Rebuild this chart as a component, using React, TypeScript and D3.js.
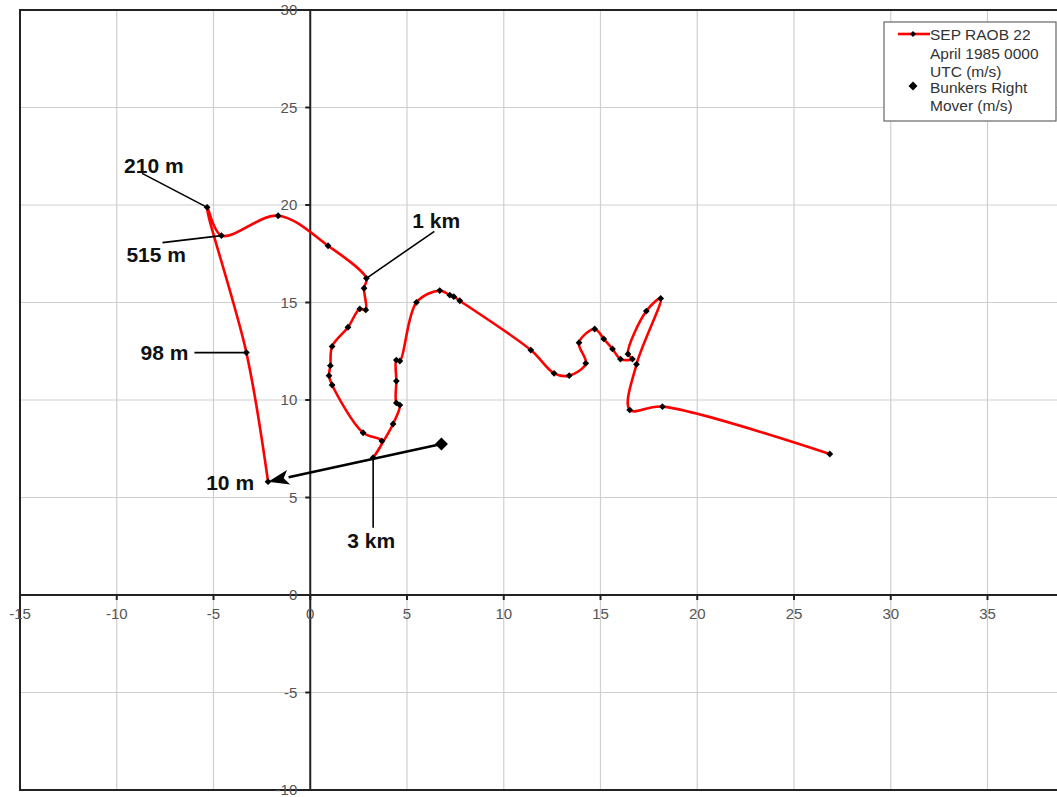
import React from "react";
import * as d3 from "d3";

// Hodograph: wind components (u, v) in m/s, ordered by height from 10 m upward
const uWind = [
  -2.18, -3.3, -5.33, -4.59, -1.66, 0.92, 2.9, 2.78, 2.87, 2.56, 1.95, 1.13, 1.04, 0.97, 1.13,
  2.73, 3.7, 3.25, 4.28, 4.63, 4.45, 4.45, 4.45, 4.63, 5.49, 6.69, 7.21, 7.42, 7.73, 11.4,
  12.6, 13.38, 14.24, 13.89, 14.7, 15.17, 15.62, 16.03, 16.65, 16.42, 17.37, 18.11, 16.86,
  16.51, 18.2, 26.85,
];
const vWind = [
  5.81, 12.43, 19.88, 18.43, 19.45, 17.91, 16.24, 15.73, 14.62, 14.67, 13.73, 12.75, 11.76,
  11.25, 10.77, 8.32, 7.9, 7.04, 8.77, 9.74, 9.85, 10.97, 12.05, 12.0, 15.01, 15.61, 15.38,
  15.3, 15.09, 12.56, 11.37, 11.25, 11.88, 12.94, 13.64, 13.13, 12.62, 12.1, 12.1, 12.36,
  14.56, 15.21, 11.83, 9.49, 9.66, 7.23,
];

// Bunkers right-mover storm motion (m/s)
const stormU = 6.78;
const stormV = 7.74;

// Height labels and the sounding level each one marks
const levelNames = ["10 m", "98 m", "210 m", "515 m", "1 km", "3 km"];
const levelIndex = [0, 1, 2, 3, 6, 17];

const xTicks = [-15, -10, -5, 0, 5, 10, 15, 20, 25, 30, 35];
const yTicks = [-10, -5, 0, 5, 10, 15, 20, 25, 30];

const legendLines = ["SEP RAOB 22", "April 1985 0000", "UTC (m/s)", "Bunkers Right", "Mover (m/s)"];

const W = 1057;
const H = 797;
const FONT = "'Liberation Sans', Arial, Helvetica, sans-serif";

// Label placement relative to the marked point (px): text anchor position and leader start
const labelLayout: Record<string, { tx: number; ty: number; anchor: string; lx?: number; ly?: number }> = {
  "10 m": { tx: -14, ty: 1, anchor: "end" },
  "98 m": { tx: -58, ty: 0, anchor: "end", lx: -52, ly: 0 },
  "210 m": { tx: -83, ty: -41, anchor: "start", lx: -65, ly: -34 },
  "515 m": { tx: -95, ty: 19, anchor: "start", lx: -59, ly: 7 },
  "1 km": { tx: 46, ty: -57, anchor: "start", lx: 68, ly: -47 },
  "3 km": { tx: -2, ty: 83, anchor: "middle", lx: 0, ly: 70 },
};

export default function App() {
  const x = d3.scaleLinear().domain([-15, 40]).range([20, 1084.25]);
  const y = d3.scaleLinear().domain([-10, 30]).range([790, 10]);

  const pts: [number, number][] = uWind.map((u, i) => [x(u), y(vWind[i])]);
  const line = d3
    .line<[number, number]>()
    .x((d) => d[0])
    .y((d) => d[1])
    .curve(d3.curveCatmullRom.alpha(0.5));

  const diamond = (cx: number, cy: number, r: number) =>
    `M${cx},${cy - r}L${cx + r},${cy}L${cx},${cy + r}L${cx - r},${cy}Z`;

  const sx = x(stormU);
  const sy = y(stormV);
  const [ex, ey] = pts[0];
  const ang = Math.atan2(ey - sy, ex - sx);
  const headLen = 21;
  const headW = 7.5;
  const bx = ex - headLen * Math.cos(ang);
  const by = ey - headLen * Math.sin(ang);
  const px = -Math.sin(ang);
  const py = Math.cos(ang);
  const head = `M${ex},${ey}L${bx + px * headW},${by + py * headW}L${bx + 5 * Math.cos(ang)},${by + 5 * Math.sin(ang)}L${bx - px * headW},${by - py * headW}Z`;

  const x0 = x(0);
  const y0 = y(0);

  return (
    <svg
      width={W}
      height={H}
      style={{ position: "absolute", left: 0, top: 0, background: "#fff" }}
      fontFamily={FONT}
    >
      <rect x={0} y={0} width={W} height={H} fill="#fff" />
      {/* gridlines */}
      {xTicks.map((t) => (
        <line key={"gx" + t} x1={x(t)} x2={x(t)} y1={y(30)} y2={y(-10)} stroke="#cfcfcf" strokeWidth={1.2} />
      ))}
      {yTicks.map((t) => (
        <line key={"gy" + t} x1={x(-15)} x2={x(40)} y1={y(t)} y2={y(t)} stroke="#cfcfcf" strokeWidth={1.2} />
      ))}
      {/* plot frame */}
      <rect x={x(-15)} y={y(30)} width={x(40) - x(-15)} height={y(-10) - y(30)} fill="none" stroke="#222" strokeWidth={2} />
      {/* axes through the origin */}
      <line x1={x(-15)} x2={x(40)} y1={y0} y2={y0} stroke="#222" strokeWidth={2} />
      <line x1={x0} x2={x0} y1={y(30)} y2={y(-10)} stroke="#222" strokeWidth={2} />
      {xTicks.map((t) => (
        <line key={"tx" + t} x1={x(t)} x2={x(t)} y1={y0} y2={y0 + 5} stroke="#222" strokeWidth={2} />
      ))}
      {yTicks.map((t) => (
        <line key={"ty" + t} x1={x0 - 5} x2={x0} y1={y(t)} y2={y(t)} stroke="#222" strokeWidth={2} />
      ))}
      {xTicks.map((t) => (
        <text key={"lx" + t} x={x(t)} y={y0 + 24} textAnchor="middle" fontSize={15} fill="#555">
          {t}
        </text>
      ))}
      {yTicks.map((t) => (
        <text key={"ly" + t} x={x0 - 13} y={y(t) + 5} textAnchor="end" fontSize={15} fill="#555">
          {t}
        </text>
      ))}

      {/* hodograph trace */}
      <path d={line(pts) || ""} fill="none" stroke="#ff0000" strokeWidth={2.6} strokeLinejoin="round" />
      {pts.map((p, i) => (
        <path key={"m" + i} d={diamond(p[0], p[1], 3.4)} fill="#000" />
      ))}

      {/* storm motion arrow back to the surface wind */}
      <line x1={sx} y1={sy} x2={bx} y2={by} stroke="#000" strokeWidth={2.6} />
      <path d={head} fill="#000" />
      <path d={diamond(sx, sy, 6.5)} fill="#000" />

      {/* height annotations */}
      {levelNames.map((name, k) => {
        const [pxl, pyl] = pts[levelIndex[k]];
        const L = labelLayout[name];
        return (
          <g key={name}>
            {L.lx !== undefined && (
              <line x1={pxl + L.lx} y1={pyl + (L.ly || 0)} x2={pxl} y2={pyl} stroke="#000" strokeWidth={1.6} />
            )}
            <text
              x={pxl + L.tx}
              y={pyl + L.ty + 7}
              textAnchor={L.anchor as any}
              fontSize={21}
              fontWeight="bold"
              fill="#111"
            >
              {name}
            </text>
          </g>
        );
      })}

      {/* legend */}
      <rect x={884} y={22} width={172} height={99} fill="#fff" stroke="#666" strokeWidth={1.2} />
      <line x1={898} x2={930} y1={34} y2={34} stroke="#ff0000" strokeWidth={2.6} />
      <path d={diamond(913, 34, 3)} fill="#000" />
      <path d={diamond(913, 86, 4.5)} fill="#000" />
      {legendLines.map((s, i) => (
        <text key={s} x={930} y={[34, 53, 71, 87, 105][i] + 5.5} fontSize={15.5} fill="#333">
          {s}
        </text>
      ))}
    </svg>
  );
}
